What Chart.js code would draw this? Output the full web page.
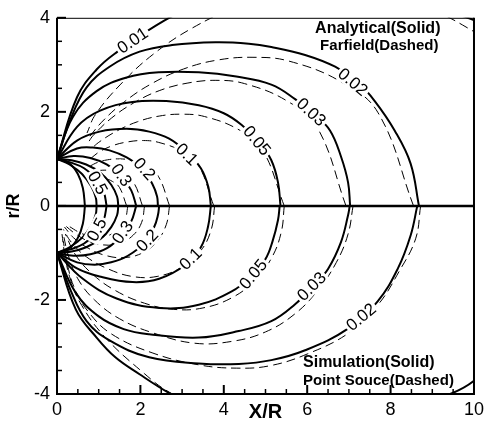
<!DOCTYPE html>
<html>
<head>
<meta charset="utf-8">
<script src="https://cdn.jsdelivr.net/npm/chart.js@4.4.1/dist/chart.umd.min.js"></script>
<style>
html,body{margin:0;padding:0;background:#fff;}
#wrap{width:489px;height:436px;}
</style>
</head>
<body>
<div id="wrap"><canvas id="chart" width="489" height="436"></canvas></div>
<script>
// contour levels drawn as solid lines (upper half analytical, lower half simulation)
const levels = ["0.01", "0.02", "0.03", "0.05", "0.1", "0.2", "0.3", "0.4", "0.5", "0.7", "1.0"];

// upper half, solid: analytical  [X/R, r/R]
const analytical = [
  [[0,1],[0.48,2.31],[0.95,2.9],[1.45,3.28],[2.38,3.84],[3.2,4.22],[4.5,4.6],[6,4.7],[7.5,4.5],[8.8,4.2],[9.85,4.0],[10.6,3.6],[11.5,2.6],[12.1,1.3],[12.3,0]],
  [[0,1],[0.31,1.81],[0.71,2.52],[1.26,2.96],[1.98,3.28],[2.76,3.42],[3.8,3.48],[4.6,3.45],[5.14,3.38],[5.95,3.21],[6.67,2.96],[7.2,2.64],[7.62,2.23],[8.1,1.6],[8.48,0.9],[8.68,0]],
  [[0,1],[0.38,1.89],[0.95,2.44],[1.67,2.73],[2.45,2.84],[3.4,2.84],[4.3,2.75],[5.14,2.58],[5.71,2.27],[6.2,1.92],[6.55,1.6],[6.81,1.05],[6.98,0.5],[7.03,0]],
  [[0,1],[0.48,1.68],[1.02,2.02],[1.81,2.21],[2.62,2.23],[3.4,2.14],[4.0,1.97],[4.43,1.72],[4.85,1.35],[5.14,0.97],[5.3,0.5],[5.36,0]],
  [[0,1],[0.48,1.39],[1.02,1.58],[1.67,1.64],[2.21,1.58],[2.69,1.43],[3.1,1.15],[3.45,0.8],[3.63,0.4],[3.69,0]],
  [[0,1],[0.48,1.22],[0.86,1.24],[1.26,1.18],[1.67,1.03],[2.05,0.78],[2.29,0.46],[2.4,0.2],[2.42,0]],
  [[0,1],[0.4,1.06],[0.8,1.02],[1.2,0.88],[1.55,0.63],[1.78,0.33],[1.9,0]],
  [[0,1],[0.35,0.97],[0.7,0.88],[1.05,0.7],[1.3,0.45],[1.44,0.2],[1.47,0]],
  [[0,1],[0.3,0.93],[0.65,0.8],[0.95,0.55],[1.12,0.3],[1.19,0]],
  [[0,1],[0.3,0.88],[0.6,0.68],[0.82,0.42],[0.93,0.18],[0.95,0]],
  [[0,1],[0.3,0.9],[0.5,0.68],[0.62,0.38],[0.67,0]]
];

// lower half, solid: simulation
const simulation = [
  [[0,-1],[0.45,-2.2],[0.95,-2.8],[1.4,-3.22],[1.98,-3.58],[2.69,-3.98],[3.5,-4.35],[5,-4.7],[6.5,-4.65],[8,-4.4],[9.43,-4.0],[10,-3.72],[11,-2.9],[11.8,-1.6],[12.2,0]],
  [[0,-1],[0.33,-1.8],[0.71,-2.45],[1.26,-2.86],[2.21,-3.22],[3.4,-3.35],[4.36,-3.36],[5.14,-3.28],[5.95,-3.07],[6.98,-2.61],[7.69,-2.03],[8.17,-1.34],[8.48,-0.63],[8.64,0]],
  [[0,-1],[0.45,-1.85],[1.0,-2.35],[1.6,-2.62],[2.21,-2.73],[3.4,-2.8],[4.36,-2.66],[5.14,-2.45],[5.71,-2.09],[6.15,-1.7],[6.5,-1.34],[6.81,-0.77],[6.98,-0.2],[7.02,0]],
  [[0,-1],[0.62,-1.55],[1.43,-1.97],[2.45,-2.17],[3.4,-2.1],[4.19,-1.82],[4.65,-1.5],[5.0,-1.13],[5.17,-0.75],[5.3,-0.3],[5.34,0]],
  [[0,-1],[0.48,-1.33],[1.02,-1.5],[1.81,-1.62],[2.45,-1.55],[3.1,-1.24],[3.45,-0.88],[3.62,-0.45],[3.69,0]],
  [[0,-1],[0.48,-1.2],[0.9,-1.25],[1.3,-1.2],[1.7,-1.06],[2.1,-0.78],[2.33,-0.45],[2.42,-0.2],[2.45,0]],
  [[0,-1],[0.4,-1.06],[0.8,-1.03],[1.2,-0.9],[1.55,-0.63],[1.78,-0.33],[1.9,0]],
  [[0,-1],[0.35,-0.97],[0.7,-0.88],[1.05,-0.7],[1.3,-0.45],[1.44,-0.2],[1.47,0]],
  [[0,-1],[0.3,-0.93],[0.65,-0.8],[0.95,-0.55],[1.12,-0.3],[1.19,0]],
  [[0,-1],[0.3,-0.88],[0.6,-0.68],[0.82,-0.42],[0.93,-0.18],[0.95,0]],
  [[0,-1],[0.3,-0.9],[0.5,-0.68],[0.62,-0.38],[0.67,0]]
];

// dashed levels
const dashLevels = ["0.01", "0.02", "0.03", "0.05", "0.1", "0.2", "0.3", "0.5"];

// upper half, dashed: farfield
const farfield = [
  [[12.2,0],[10.99,2.89],[9.72,3.85],[7.93,4.48],[6.71,4.6],[5.48,4.51],[4.32,4.23],[3.24,3.78],[2.3,3.22],[1.53,2.59],[0.92,1.94],[0.72,1.55]],
  [[8.55,0],[7.7,1.98],[6.81,2.64],[5.56,3.08],[4.7,3.16],[3.84,3.1],[3.03,2.91],[2.27,2.6],[1.61,2.21],[1.07,1.78],[0.72,1.4]],
  [[6.93,0],[6.24,1.67],[5.52,2.23],[4.5,2.6],[3.81,2.67],[3.12,2.61],[2.45,2.45],[1.84,2.19],[1.31,1.87],[0.87,1.5],[0.75,1.35]],
  [[5.45,0],[4.91,1.22],[4.34,1.63],[3.54,1.9],[3.0,1.95],[2.45,1.91],[1.93,1.79],[1.45,1.6],[1.03,1.37],[0.8,1.2]],
  [[3.76,0],[3.39,0.87],[3.0,1.16],[2.44,1.35],[2.07,1.39],[1.69,1.36],[1.33,1.28],[1.0,1.14],[0.8,1.0]],
  [[2.7,0],[2.43,0.63],[2.15,0.83],[1.76,0.97],[1.49,1.0],[1.21,0.98],[0.96,0.92],[0.8,0.85]],
  [[2.05,0],[1.85,0.48],[1.63,0.63],[1.33,0.74],[1.13,0.76],[0.92,0.74]],
  [[1.67,0],[1.5,0.39],[1.33,0.52],[1.09,0.6],[0.92,0.62]]
];

// lower half, dashed: point source
const pointSource = [
  [[12.3,0],[11.3,-2.8],[9.8,-4.1],[8,-4.75],[6.5,-4.85],[5,-4.7],[3.6,-4.33],[2.69,-3.96],[2.1,-3.57],[1.14,-2.78],[0.55,-2.05],[0.3,-1.5],[0.18,-1.0],[0.12,-0.6]],
  [[8.72,0],[8.6,-0.7],[8.2,-1.4],[7.7,-2.1],[7.0,-2.7],[6.0,-3.15],[5.1,-3.4],[4.3,-3.45],[3.4,-3.38],[2.3,-3.13],[1.3,-2.72],[0.75,-2.25],[0.42,-1.75],[0.25,-1.25],[0.15,-0.75]],
  [[7.1,0],[6.98,-0.6],[6.7,-1.2],[6.25,-1.8],[5.7,-2.3],[5.0,-2.68],[4.2,-2.88],[3.3,-2.92],[2.3,-2.7],[1.5,-2.4],[0.9,-2.0],[0.5,-1.55],[0.27,-1.05],[0.15,-0.6]],
  [[5.45,0],[5.38,-0.55],[5.15,-1.1],[4.75,-1.58],[4.2,-1.95],[3.5,-2.17],[2.8,-2.2],[2.1,-2.07],[1.4,-1.8],[0.85,-1.45],[0.45,-1.05],[0.2,-0.6]],
  [[3.78,0],[3.7,-0.5],[3.45,-0.95],[3.0,-1.3],[2.4,-1.5],[1.8,-1.5],[1.2,-1.33],[0.7,-1.08],[0.35,-0.78],[0.15,-0.5]],
  [[2.7,0],[2.62,-0.4],[2.4,-0.75],[2.05,-1.0],[1.6,-1.1],[1.15,-1.05],[0.75,-0.9],[0.4,-0.68],[0.18,-0.45]],
  [[2.1,0],[2.03,-0.35],[1.83,-0.62],[1.5,-0.8],[1.12,-0.83],[0.75,-0.75],[0.42,-0.58],[0.2,-0.42]],
  [[1.7,0],[1.63,-0.3],[1.45,-0.52],[1.15,-0.65],[0.85,-0.66],[0.55,-0.57],[0.3,-0.44]]
];

// contour labels along the lines
const labelText  = ["0.01", "0.02", "0.03", "0.05", "0.1", "0.2", "0.3", "0.5", "0.02", "0.03", "0.05", "0.1", "0.2", "0.3", "0.5"];
const labelX     = [1.81, 7.1, 6.1, 4.8, 3.12, 2.1, 1.55, 0.98, 7.29, 6.1, 4.7, 3.2, 2.16, 1.57, 0.95];
const labelY     = [3.52, 2.64, 2.0, 1.39, 1.1, 0.79, 0.66, 0.49, -2.36, -1.71, -1.45, -1.12, -0.73, -0.56, -0.5];
const labelAngle = [-34, 40, 43, 50, 44, 48, 55, 62, -40, -45, -50, -45, -46, -55, -62];

// axis ticks
const xTickLabels = [0, 2, 4, 6, 8, 10];
const yTickLabels = [-4, -2, 0, 2, 4];

// notes inside the plot
const noteText = ["Analytical(Solid)", "Farfield(Dashed)", "Simulation(Solid)", "Point Souce(Dashed)"];
const noteX = [6.19, 6.31, 5.9, 5.9];
const noteY = [3.78, 3.4, -3.34, -3.72];
const noteSize = [16, 15, 16, 15];

const FONT = '"Liberation Sans", Arial, Helvetica, sans-serif';
Chart.defaults.font.family = FONT;
Chart.defaults.color = "#000";

function toPts(arr) {
  return arr.map(p => ({ x: p[0], y: p[1] }));
}

function lineSet(pts, dashed, name) {
  return {
    label: name,
    data: toPts(pts),
    showLine: true,
    borderColor: "#000",
    borderWidth: dashed ? 1 : 2,
    borderDash: dashed ? [9, 5] : [],
    pointRadius: 0,
    tension: 0.4,
    fill: false
  };
}

const datasets = [];
farfield.forEach((c, i) => datasets.push(lineSet(c, true, "farfield " + dashLevels[i])));
pointSource.forEach((c, i) => datasets.push(lineSet(c, true, "point source " + dashLevels[i])));
analytical.forEach((c, i) => datasets.push(lineSet(c, false, "analytical " + levels[i])));
simulation.forEach((c, i) => datasets.push(lineSet(c, false, "simulation " + levels[i])));

const contourLabels = {
  id: "contourLabels",
  afterDatasetsDraw(chart) {
    const { ctx, scales: { x, y } } = chart;
    ctx.save();
    ctx.font = "17px " + FONT;
    ctx.textAlign = "center";
    ctx.textBaseline = "middle";
    labelText.forEach((t, i) => {
      const px = x.getPixelForValue(labelX[i]);
      const py = y.getPixelForValue(labelY[i]);
      ctx.save();
      ctx.translate(px, py);
      ctx.rotate(labelAngle[i] * Math.PI / 180);
      const w = ctx.measureText(t).width;
      ctx.fillStyle = "#fff";
      ctx.fillRect(-w / 2 - 2, -8, w + 4, 16);
      ctx.fillStyle = "#000";
      ctx.fillText(t, 0, 1);
      ctx.restore();
    });
    ctx.restore();
  }
};

const frame = {
  id: "frame",
  afterDraw(chart) {
    const { ctx, chartArea: a, scales: { x, y } } = chart;
    ctx.save();
    ctx.strokeStyle = "#000";

    // r = 0 line between the two halves
    const y0 = y.getPixelForValue(0);
    ctx.lineWidth = 2.5;
    ctx.beginPath();
    ctx.moveTo(a.left, y0);
    ctx.lineTo(a.right, y0);
    ctx.stroke();

    ctx.lineWidth = 2;
    ctx.beginPath();
    ctx.moveTo(a.left, a.top);
    ctx.lineTo(a.left, a.bottom);
    ctx.lineTo(a.right, a.bottom);
    ctx.lineTo(a.right, a.top);
    ctx.stroke();
    ctx.lineWidth = 1;
    ctx.beginPath();
    ctx.moveTo(a.left, a.top + 0.5);
    ctx.lineTo(a.right, a.top + 0.5);
    ctx.stroke();

    // inward ticks, long on labelled values
    x.ticks.forEach(t => {
      const px = x.getPixelForValue(t.value);
      const major = xTickLabels.includes(t.value);
      ctx.lineWidth = major ? 2 : 1.5;
      ctx.beginPath();
      ctx.moveTo(px, a.bottom);
      ctx.lineTo(px, a.bottom - (major ? 9 : 5));
      ctx.stroke();
    });
    y.ticks.forEach(t => {
      const py = y.getPixelForValue(t.value);
      const major = yTickLabels.includes(t.value);
      ctx.lineWidth = major ? 2 : 1.5;
      ctx.beginPath();
      ctx.moveTo(a.left, py);
      ctx.lineTo(a.left + (major ? 9 : 5), py);
      ctx.stroke();
    });

    // notes
    ctx.fillStyle = "#000";
    ctx.textAlign = "left";
    ctx.textBaseline = "middle";
    noteText.forEach((t, i) => {
      ctx.font = "bold " + noteSize[i] + "px " + FONT;
      ctx.fillText(t, x.getPixelForValue(noteX[i]), y.getPixelForValue(noteY[i]));
    });
    ctx.restore();
  }
};

new Chart(document.getElementById("chart"), {
  type: "scatter",
  data: { datasets },
  options: {
    responsive: false,
    animation: false,
    events: [],
    layout: { padding: { top: 12, right: 12, left: 0, bottom: 0 } },
    plugins: { legend: { display: false }, tooltip: { enabled: false } },
    scales: {
      x: {
        type: "linear",
        min: 0,
        max: 10,
        grid: { display: false, drawTicks: false },
        border: { display: false },
        ticks: {
          stepSize: 0.5,
          autoSkip: false,
          maxRotation: 0,
          padding: 5,
          font: { size: 18 },
          color: "#000",
          callback: v => (xTickLabels.includes(v) ? String(v) : "")
        },
        title: { display: true, text: "X/R", color: "#000", font: { size: 20, weight: "bold" }, padding: { top: 0, bottom: 12 } },
        afterFit: s => { s.height = 42; }
      },
      y: {
        type: "linear",
        min: -4,
        max: 4,
        grid: { display: false, drawTicks: false },
        border: { display: false },
        ticks: {
          stepSize: 0.5,
          autoSkip: false,
          padding: 7,
          font: { size: 18 },
          color: "#000",
          callback: v => (yTickLabels.includes(v) ? String(v) : "")
        },
        title: { display: true, text: "r/R", color: "#000", font: { size: 18, weight: "bold" }, padding: { top: 3, bottom: 0 } },
        afterFit: s => { s.width = 57; }
      }
    }
  },
  plugins: [contourLabels, frame]
});
</script>
</body>
</html>
